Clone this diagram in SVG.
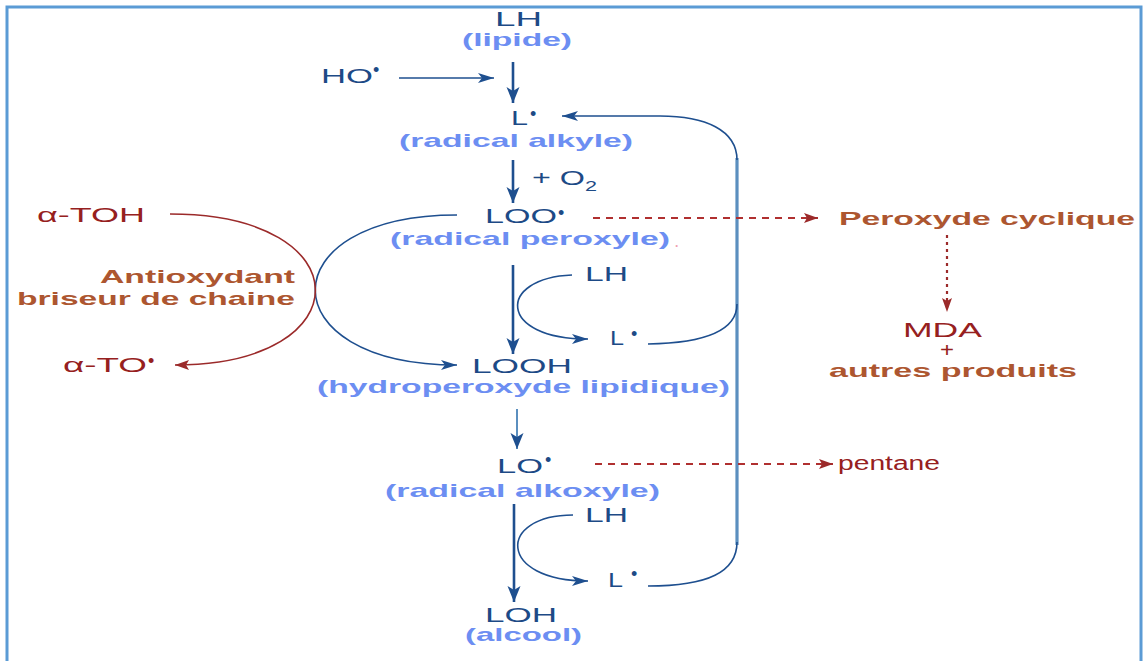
<svg xmlns="http://www.w3.org/2000/svg" width="1143" height="661" viewBox="0 0 1143 661">
<style>
text{font-family:"Liberation Sans",Arial,sans-serif}
.n{fill:#1d4a86;font-size:20px}
.lb{fill:#6c8ef2;font-size:19px;font-weight:bold}
.r{fill:#962020;font-size:20px}
.br{fill:#ad5630;font-size:19px;font-weight:bold}
.bul{font-size:18px}
.ln{fill:none;stroke:#1e4f8f;stroke-width:1.6}
.th{fill:none;stroke:#1e4f8f;stroke-width:2.6}
.rd{fill:none;stroke:#9b2a2a;stroke-width:1.6}
.dash{fill:none;stroke:#b03030;stroke-width:1.8;stroke-dasharray:7 6}
</style>
<defs>
<marker id="ab" markerUnits="userSpaceOnUse" markerWidth="18" markerHeight="12" refX="16" refY="6" orient="auto"><path d="M0,1 L16,6 L0,11 L4,6 Z" fill="#1e4f8f"/></marker>
<marker id="abt" markerUnits="userSpaceOnUse" markerWidth="18" markerHeight="14" refX="16" refY="7" orient="auto"><path d="M0,0.5 L16,7 L0,13.5 L4,7 Z" fill="#1e4f8f"/></marker>
<marker id="ar" markerUnits="userSpaceOnUse" markerWidth="16" markerHeight="12" refX="14" refY="6" orient="auto"><path d="M0,1 L14,6 L0,11 L3,6 Z" fill="#9b2a2a"/></marker>
</defs>
<rect x="7" y="7" width="1134" height="700" fill="#fff" stroke="#5b9bd5" stroke-width="3"/>
<g id="connectors">
<line class="ln" x1="399" y1="78" x2="494" y2="78" marker-end="url(#ab)"/>
<line class="th" x1="513" y1="62" x2="513" y2="103" marker-end="url(#abt)"/>
<line class="th" x1="513" y1="160" x2="513" y2="203" marker-end="url(#abt)"/>
<line class="th" x1="513" y1="265" x2="513" y2="354" marker-end="url(#abt)"/>
<line x1="517" y1="409" x2="517" y2="449" stroke="#5b8fbf" stroke-width="2" marker-end="url(#abt)"/>
<line class="th" x1="514" y1="504" x2="514" y2="602" marker-end="url(#abt)"/>
<line x1="737" y1="158" x2="737" y2="545" stroke="#5b8fbf" stroke-width="3.2"/>
<path class="ln" d="M737,160 C737,130 705,116 660,116 L562,116" marker-end="url(#ab)"/>
<path class="ln" d="M457,215 C268,215 268,365 457,365" marker-end="url(#ab)"/>
<path class="rd" d="M170,214 C363,214 363,365 175,365" marker-end="url(#ar)"/>
<path class="ln" d="M572,275 C497,278 497,339 588,339" marker-end="url(#ab)"/>
<path class="ln" d="M648,344 C705,343 737,330 737,304"/>
<path class="ln" d="M573,515 C497,515 497,581 588,581" marker-end="url(#ab)"/>
<path class="ln" d="M648,586 C708,586 737,572 737,542"/>
<line class="dash" x1="593" y1="218" x2="818" y2="218" marker-end="url(#ar)"/>
<line class="dash" x1="595" y1="464" x2="833" y2="464" marker-end="url(#ar)"/>
<line x1="947" y1="235" x2="947" y2="312" stroke="#9b2a2a" stroke-width="2.2" stroke-dasharray="3 4" marker-end="url(#ar)"/>
</g>
<g id="lh-lipide">
<text class="n" x="495" y="26" textLength="47" lengthAdjust="spacingAndGlyphs">LH</text>
<text class="lb" x="462" y="46" textLength="110" lengthAdjust="spacingAndGlyphs">(lipide)</text>
</g>
<g id="ho">
<text class="n"><tspan x="321" y="83" textLength="52" lengthAdjust="spacingAndGlyphs">HO</tspan><tspan class="bul" x="373" y="76">•</tspan></text>
</g>
<g id="l-alkyle">
<text class="n"><tspan x="511" y="125" textLength="17" lengthAdjust="spacingAndGlyphs">L</tspan><tspan class="bul" x="530" y="120">•</tspan></text>
<text class="lb" x="399" y="147" textLength="234" lengthAdjust="spacingAndGlyphs">(radical alkyle)</text>
</g>
<g id="o2">
<text class="n"><tspan x="532" y="185" textLength="53" lengthAdjust="spacingAndGlyphs">+ O</tspan><tspan x="585" y="191" font-size="15" textLength="12" lengthAdjust="spacingAndGlyphs">2</tspan></text>
</g>
<g id="loo">
<text class="n"><tspan x="485" y="223" textLength="72" lengthAdjust="spacingAndGlyphs">LOO</tspan><tspan class="bul" x="558" y="219">•</tspan></text>
<text class="lb"><tspan x="390" y="245" textLength="280" lengthAdjust="spacingAndGlyphs">(radical peroxyle)</tspan><tspan x="675" y="247" fill="#f0a0b0" font-size="12">.</tspan></text>
</g>
<g id="lh-2">
<text class="n" x="585" y="281" textLength="43" lengthAdjust="spacingAndGlyphs">LH</text>
</g>
<g id="l-2">
<text class="n"><tspan x="610" y="345" textLength="14" lengthAdjust="spacingAndGlyphs">L</tspan><tspan class="bul" x="631" y="340">•</tspan></text>
</g>
<g id="looh">
<text class="n" x="472" y="373" textLength="100" lengthAdjust="spacingAndGlyphs">LOOH</text>
<text class="lb" x="317" y="393" textLength="413" lengthAdjust="spacingAndGlyphs">(hydroperoxyde lipidique)</text>
</g>
<g id="lo">
<text class="n"><tspan x="497" y="473" textLength="46" lengthAdjust="spacingAndGlyphs">LO</tspan><tspan class="bul" x="545" y="466">•</tspan></text>
<text class="lb" x="385" y="497" textLength="275" lengthAdjust="spacingAndGlyphs">(radical alkoxyle)</text>
</g>
<g id="lh-3">
<text class="n" x="585" y="522" textLength="43" lengthAdjust="spacingAndGlyphs">LH</text>
</g>
<g id="l-3">
<text class="n"><tspan x="608" y="587" textLength="15" lengthAdjust="spacingAndGlyphs">L</tspan><tspan class="bul" x="631" y="580">•</tspan></text>
</g>
<g id="loh">
<text class="n" x="485" y="622" textLength="72" lengthAdjust="spacingAndGlyphs">LOH</text>
<text class="lb" x="465" y="641" textLength="117" lengthAdjust="spacingAndGlyphs">(alcool)</text>
</g>
<g id="atoh">
<text class="r" x="37" y="222" textLength="108" lengthAdjust="spacingAndGlyphs">α-TOH</text>
</g>
<g id="antioxydant">
<text class="br" x="100" y="283" textLength="195" lengthAdjust="spacingAndGlyphs">Antioxydant</text>
<text class="br" x="17" y="305" textLength="278" lengthAdjust="spacingAndGlyphs">briseur de chaine</text>
</g>
<g id="ato">
<text class="r"><tspan x="63" y="372" textLength="84" lengthAdjust="spacingAndGlyphs">α-TO</tspan><tspan class="bul" x="148" y="367">•</tspan></text>
</g>
<g id="peroxyde-cyclique">
<text class="br" x="839" y="225" textLength="296" lengthAdjust="spacingAndGlyphs">Peroxyde cyclique</text>
</g>
<g id="mda">
<text class="r" x="903" y="337" textLength="79" lengthAdjust="spacingAndGlyphs">MDA</text>
<text class="r" x="940" y="357" font-size="16" textLength="14" lengthAdjust="spacingAndGlyphs">+</text>
<text class="br" x="829" y="377" textLength="248" lengthAdjust="spacingAndGlyphs">autres produits</text>
</g>
<g id="pentane">
<text class="r" x="838" y="470" textLength="102" lengthAdjust="spacingAndGlyphs">pentane</text>
</g>
</svg>
